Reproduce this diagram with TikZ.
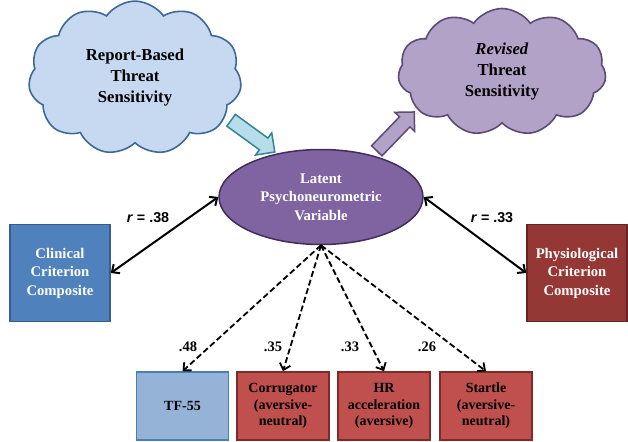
\documentclass[tikz,border=0pt]{standalone}
\usepackage{fontspec}
\setmainfont{Liberation Serif}
\newfontfamily\arialfont{Liberation Sans}
\usetikzlibrary{shapes.symbols,shapes.geometric,shapes.arrows,arrows.meta}

\definecolor{skyfill}{HTML}{C6D9F1}
\definecolor{skyline}{HTML}{3C689A}
\definecolor{lilacfill}{HTML}{B3A2C7}
\definecolor{lilacline}{HTML}{5C4A7A}
\definecolor{latentfill}{HTML}{8064A2}
\definecolor{latentline}{HTML}{3F2E5A}
\definecolor{clinfill}{HTML}{4F81BD}
\definecolor{clinline}{HTML}{385D8A}
\definecolor{physfill}{HTML}{953735}
\definecolor{physline}{HTML}{632523}
\definecolor{tffill}{HTML}{95B3D7}
\definecolor{tfline}{HTML}{4A7EBB}
\definecolor{redfill}{HTML}{C0504D}
\definecolor{redline}{HTML}{7F2B29}
\definecolor{aquafill}{HTML}{B7DEE8}
\definecolor{aqualine}{HTML}{31859C}

\tikzset{
  thought/.style={cloud, cloud puffs=11, cloud puff arc=110, draw, line width=1.6pt,
    align=center, inner sep=0pt, font=\bfseries\fontsize{16.7}{21}\selectfont},
  measure/.style={rectangle, draw, line width=1.5pt, align=center,
    minimum width=92pt, minimum height=68pt, inner sep=0pt,
    font=\bfseries\fontsize{14}{16.5}\selectfont},
  criterion/.style={measure, minimum width=100pt, minimum height=97pt, text=white,
    font=\bfseries\fontsize{14.7}{18.5}\selectfont},
  blockarrow/.style={single arrow, draw, line width=1.5pt, minimum height=54pt,
    inner xsep=0pt, inner ysep=6.5pt, single arrow head extend=6.5pt},
  coef/.style={font=\bfseries\fontsize{14.5}{16}\selectfont},
  corr/.style={font=\arialfont\bfseries\fontsize{14.3}{16}\selectfont},
  link/.style={{Straight Barb[length=6pt,width=11pt]}-{Straight Barb[length=6pt,width=11pt]}, line width=2pt},
  loading/.style={-{Straight Barb[length=6pt,width=11pt]}, line width=1.8pt, dash pattern=on 6pt off 3pt},
}

\begin{document}
\begin{tikzpicture}[x=1pt,y=-1pt]
\useasboundingbox (0,0) rectangle (628,441);

% clouds and block arrows
\node[thought, fill=skyfill, draw=skyline, minimum width=213pt, minimum height=132pt]
  (report) at (135,78) {Report-Based\\Threat\\Sensitivity};
\node[thought, fill=lilacfill, draw=lilacline, minimum width=208pt, minimum height=127pt]
  (revised) at (502,72) {\textit{Revised}\\Threat\\Sensitivity};
\node[blockarrow, fill=aquafill, draw=aqualine, rotate=-36] (inarrow) at (250,134) {};
\node[blockarrow, fill=lilacfill, draw=lilacline, rotate=46] (outarrow) at (393,134) {};

% latent variable and criteria
\node[ellipse, draw=latentline, fill=latentfill, line width=1.5pt, minimum width=204pt,
  minimum height=95pt, align=center, text=white, inner sep=0pt,
  font=\bfseries\fontsize{14.7}{18.5}\selectfont]
  (latent) at (321,197) {Latent\\Psychoneurometric\\Variable};
\node[criterion, fill=clinfill, draw=clinline] (clinical) at (60,273)
  {Clinical\\Criterion\\Composite};
\node[criterion, fill=physfill, draw=physline] (physio) at (577,273)
  {Physiological\\Criterion\\Composite};

\draw[link] (clinical.east) -- (latent.west);
\draw[link] (physio.west) -- (latent.east);
\node[corr] (r38) at (148,218) {\textit{r} = .38};
\node[corr] (r33) at (492,218) {\textit{r} = .33};

% indicators
\node[measure, fill=tffill, draw=tfline] (tf) at (182.5,406) {TF-55};
\node[measure, fill=redfill, draw=redline] (corrugator) at (283,406) {Corrugator\\(aversive-\\neutral)};
\node[measure, fill=redfill, draw=redline] (hr) at (384,406) {HR\\acceleration\\(aversive)};
\node[measure, fill=redfill, draw=redline] (startle) at (486,406) {Startle\\(aversive-\\neutral)};

\foreach \m in {tf,corrugator,hr,startle}
  \draw[loading] (latent.south) -- (\m.north);

\node[coef] (w48) at (188,347) {.48};
\node[coef] (w35) at (273,347) {.35};
\node[coef] (w33) at (350,347) {.33};
\node[coef] (w26) at (427,347) {.26};
\end{tikzpicture}
\end{document}
